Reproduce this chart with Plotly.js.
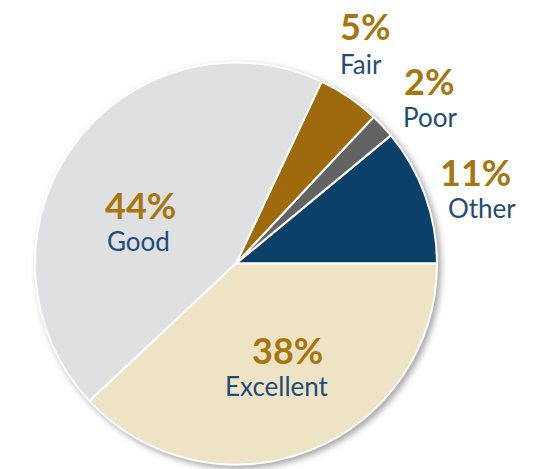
<!DOCTYPE html>
<html>
<head>
<meta charset="utf-8">
<script src="https://cdn.plot.ly/plotly-3.0.1.min.js"></script>
<style>
html,body{margin:0;padding:0;background:#fff;}
#chart{width:536px;height:469px;}
.pielayer .trace{filter:drop-shadow(3px 3px 3px rgba(0,0,0,0.35));}
</style>
</head>
<body>
<div id="chart"></div>
<script>
const categories = ["Other", "Poor", "Fair", "Good", "Excellent"];
const values = [11, 2, 5, 44, 38];
const percentLabels = ["11%", "2%", "5%", "44%", "38%"];
const sliceColors = ["#0b4068", "#636363", "#9e6a0b", "#dfe0e2", "#efe3c5"];

// label anchor points (paper px), pct line and name line
const labelPlacement = {
  Other:     {x: 475, pctY: 172, nameX: 482, nameY: 208},
  Poor:      {x: 429, pctY: 81,  nameX: 430, nameY: 117},
  Fair:      {x: 365, pctY: 26,  nameX: 361, nameY: 64},
  Good:      {x: 140, pctY: 205, nameX: 138, nameY: 241},
  Excellent: {x: 287, pctY: 350, nameX: 277, nameY: 386}
};

const W = 536, H = 469;
const FONT = "Lato, 'Open Sans', sans-serif";
const annotations = [];
categories.forEach((c, i) => {
  const p = labelPlacement[c];
  annotations.push({
    xref: "paper", yref: "paper", x: p.x / W, y: 1 - p.pctY / H,
    xanchor: "center", yanchor: "middle", showarrow: false,
    text: "<b>" + percentLabels[i] + "</b>",
    font: {family: FONT, size: 36, color: "#a8760f"}
  });
  annotations.push({
    xref: "paper", yref: "paper", x: p.nameX / W, y: 1 - p.nameY / H,
    xanchor: "center", yanchor: "middle", showarrow: false,
    text: c,
    font: {family: FONT, size: 26, color: "#1e4d78"}
  });
});

const total = values.reduce((a, b) => a + b, 0);
const cx = 236, cy = 263.5, r = 201;
const data = [{
  type: "pie",
  labels: categories,
  values: values,
  sort: false,
  direction: "counterclockwise",
  // first slice begins at 3 o'clock
  rotation: 90 - 360 * values[0] / total,
  textinfo: "none",
  hoverinfo: "label+percent",
  marker: {colors: sliceColors, line: {color: "#ffffff", width: 2}},
  domain: {x: [(cx - r) / W, (cx + r) / W], y: [1 - (cy + r) / H, 1 - (cy - r) / H]},
  showlegend: false
}];

const layout = {
  width: W, height: H,
  margin: {l: 0, r: 0, t: 0, b: 0},
  paper_bgcolor: "#ffffff",
  showlegend: false,
  annotations: annotations
};

Plotly.newPlot("chart", data, layout, {displayModeBar: false, staticPlot: true});
</script>
</body>
</html>
